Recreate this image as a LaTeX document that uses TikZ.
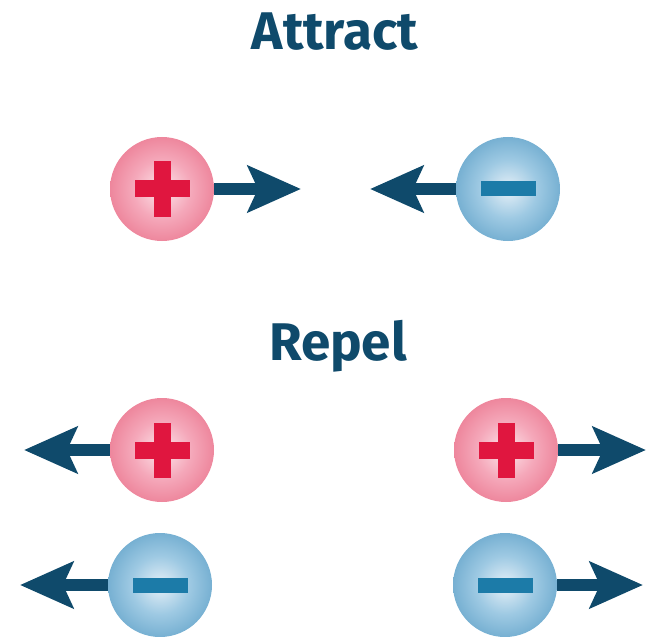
\documentclass[tikz,border=0pt]{standalone}
\usepackage{fontspec}
\setmainfont{Fira Sans}
\usetikzlibrary{arrows.meta}

\definecolor{inkblue}{HTML}{0F4A6B}
\definecolor{plusred}{HTML}{E0163F}
\definecolor{minusblue}{HTML}{1C7BA8}

% shaded balls: light centre, darker rim
\pgfdeclareradialshading{pinkball}{\pgfpoint{0bp}{0bp}}{%
  rgb(0bp)=(0.99,0.90,0.92);
  rgb(14bp)=(0.96,0.66,0.73);
  rgb(34bp)=(0.91,0.42,0.52);
  rgb(50bp)=(0.85,0.26,0.39)}
\pgfdeclareradialshading{blueball}{\pgfpoint{0bp}{0bp}}{%
  rgb(0bp)=(0.90,0.94,0.97);
  rgb(14bp)=(0.62,0.79,0.89);
  rgb(34bp)=(0.34,0.61,0.77);
  rgb(50bp)=(0.19,0.47,0.65)}

\tikzset{
  heading/.style={font=\fontsize{53}{60}\selectfont\bfseries, text=inkblue, anchor=base, inner sep=0pt},
  ball/.style={circle, minimum size=104pt, inner sep=0pt, draw=none},
  posball/.style={ball, shading=pinkball,
    path picture={
      \fill[plusred] ([shift={(-27.5,-8.5)}]path picture bounding box.center) rectangle ++(55,17);
      \fill[plusred] ([shift={(-8.5,-27.5)}]path picture bounding box.center) rectangle ++(17,55);
    }},
  negball/.style={ball, shading=blueball,
    path picture={
      \fill[minusblue] ([shift={(-27.5,-7.5)}]path picture bounding box.center) rectangle ++(55,15);
    }},
  force/.style={draw=inkblue, line width=12pt,
    -{Stealth[length=53pt, width=46pt, inset=10pt, fill=inkblue]}},
}

\begin{document}
\begin{tikzpicture}[x=1pt, y=-1pt]
  \useasboundingbox (0,0) rectangle (652,636);

  % titles
  \node[heading] (attract) at (335,50) {Attract};
  \node[heading] (repel) at (338,360) {Repel};

  % attraction: opposite charges pull together
  \node[posball] (ap) at (162,189) {};
  \node[negball] (an) at (508,189) {};
  \coordinate (aptip) at (301,189);
  \coordinate (antip) at (370,189);
  \draw[force] (ap.east) -- (aptip);
  \draw[force] (an.west) -- (antip);

  % repulsion: like charges push apart
  \node[posball] (rpl) at (162,450) {};
  \node[posball] (rpr) at (506,450) {};
  \node[negball] (rnl) at (160,585) {};
  \node[negball] (rnr) at (505,585) {};
  \coordinate (rpltip) at (24,450);
  \coordinate (rprtip) at (646,450);
  \coordinate (rnltip) at (20,585);
  \coordinate (rnrtip) at (643,585);
  \draw[force] (rpl.west) -- (rpltip);
  \draw[force] (rpr.east) -- (rprtip);
  \draw[force] (rnl.west) -- (rnltip);
  \draw[force] (rnr.east) -- (rnrtip);
\end{tikzpicture}
\end{document}
